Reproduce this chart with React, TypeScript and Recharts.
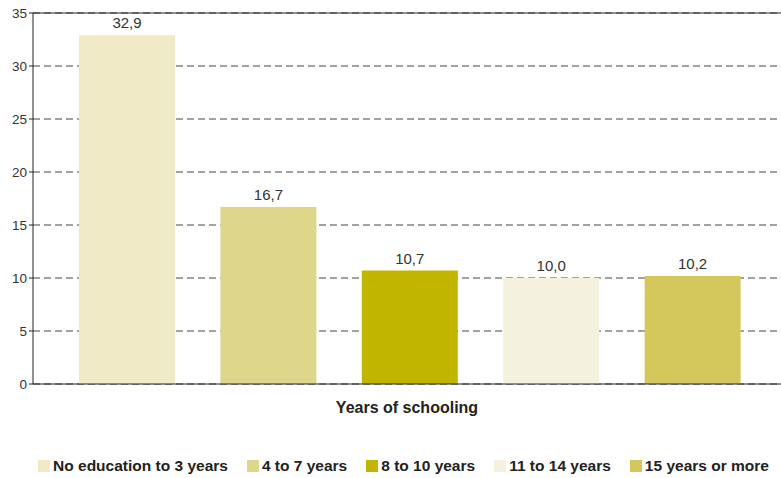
import { BarChart, Bar, XAxis, YAxis, CartesianGrid, Cell, LabelList, Legend, ReferenceLine } from "recharts";

const categories = ["No education to 3 years", "4 to 7 years", "8 to 10 years", "11 to 14 years", "15 years or more"];
const values = [32.9, 16.7, 10.7, 10.0, 10.2];
const colors = ["#f0ebc6", "#ded68a", "#c2b500", "#f5f1df", "#d4c85d"];
const yTicks = [0, 5, 10, 15, 20, 25, 30, 35];

const data = categories.map((c, i) => ({ name: c, value: values[i], color: colors[i] }));

const fmt = (v: number) => v.toFixed(1).replace(".", ",");

function LegendBox() {
  return (
    <div style={{ display: "flex", justifyContent: "center", gap: 19, height: 24, paddingLeft: 26, alignItems: "center", fontFamily: "Arial, 'Liberation Sans', sans-serif", fontSize: 15.5, fontWeight: "bold", color: "#222" }}>
      {data.map((d) => (
        <div key={d.name} style={{ display: "flex", alignItems: "center" }}>
          <span style={{ width: 12, height: 12, background: d.color, display: "inline-block", marginRight: 3 }} />
          <span>{d.name}</span>
        </div>
      ))}
    </div>
  );
}

export default function App() {
  return (
    <div style={{ position: "absolute", left: 0, top: 0, fontFamily: "Arial, 'Liberation Sans', sans-serif" }}>
      <BarChart width={781} height={478} data={data} margin={{ top: 13, right: 0, left: 0, bottom: 0 }} barSize={96}>
        <CartesianGrid vertical={false} stroke="#444" strokeDasharray="7 4" />
        <ReferenceLine y={35} stroke="#222" strokeWidth={1} />
        <XAxis
          dataKey="name"
          tick={false}
          axisLine={{ stroke: "#222" }}
          tickLine={false}
          height={70}
          padding={{ left: 23, right: 18 }}
          label={{ value: "Years of schooling", position: "insideTop", offset: 18, fill: "#222", fontSize: 16, fontWeight: "bold" }}
        />
        <YAxis
          domain={[0, 35]}
          ticks={yTicks}
          width={33}
          tick={{ fontSize: 13.5, fill: "#333" }}
          axisLine={{ stroke: "#222" }}
          tickLine={{ stroke: "#222" }}
          tickSize={4}
          interval={0}
        />
        <Legend verticalAlign="bottom" height={24} content={() => <LegendBox />} />
        <Bar dataKey="value" isAnimationActive={false}>
          {data.map((d, i) => (
            <Cell key={i} fill={d.color} />
          ))}
          <LabelList dataKey="value" position="top" offset={7} formatter={(v: unknown) => fmt(v as number)} style={{ fontSize: 15, fill: "#333" }} />
        </Bar>
      </BarChart>
    </div>
  );
}
